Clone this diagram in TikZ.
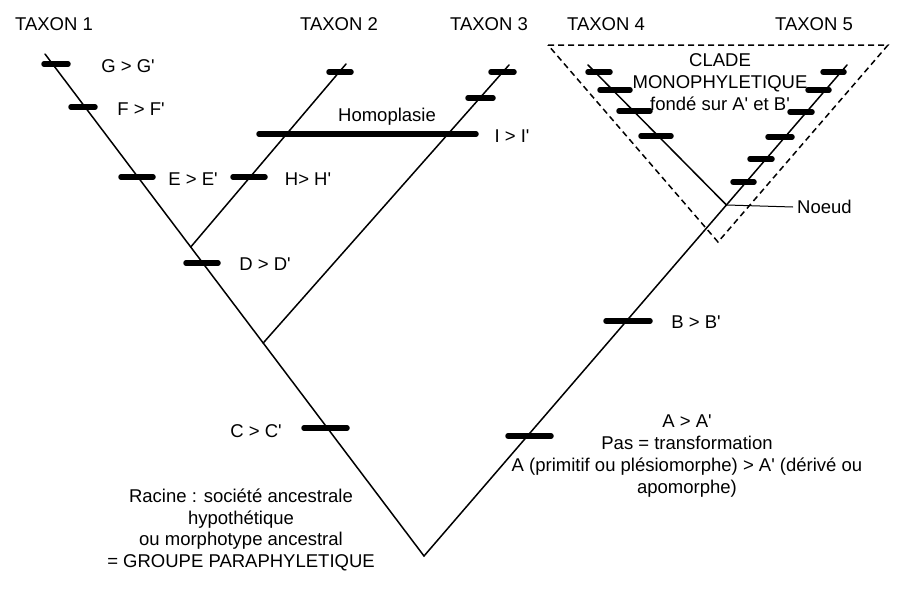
\documentclass[tikz,border=0pt]{standalone}
\usepackage{fontspec}
\setmainfont{Liberation Sans}[Ligatures=TeXOff]
\usetikzlibrary{calc}
\tikzset{
  branch/.style={line width=1.5pt, line cap=round},
  tickbar/.style={line width=5.5pt, line cap=round},
  lbl/.style={font=\fontsize{18.5}{21.7}\selectfont, inner sep=0pt},
  block/.style={lbl, align=center},
  clade/.style={line width=1.5pt, dash pattern=on 6pt off 4pt},
}
\begin{document}
\begin{tikzpicture}[x=1pt,y=-1pt]
\useasboundingbox[fill=white] (0,0) rectangle (901,598);
% tree points
\coordinate (root) at (424,556);
\coordinate (t1) at (45,54);
\coordinate (t2) at (346,64);
\coordinate (t3) at (509,65);
\coordinate (t4) at (588,65);
\coordinate (t5) at (847,65);
\coordinate (j2) at ($(root)!0.6155!(t1)$);
\coordinate (j3) at ($(root)!0.4243!(t1)$);
\coordinate (nd) at ($(root)!0.7149!(t5)$);
% branches
\draw[branch] (t1) -- (root) -- (t5);
\draw[branch] (j2) -- (t2);
\draw[branch] (j3) -- (t3);
\draw[branch] (nd) -- (t4);
% clade triangle
\draw[clade] (548,45) -- (888,45) -- (718,242) -- cycle;
% ticks taxon 1
\draw[tickbar] (44,64) -- (68,64);
\draw[tickbar] (71,107) -- (95,107);
\draw[tickbar] (121,177) -- (153,177);
\draw[tickbar] (186,263) -- (218,263);
\draw[tickbar] (304,428) -- (347,428);
% taxon 2
\draw[tickbar] (329,72) -- (351,72);
\draw[tickbar] (233,177) -- (265,177);
% homoplasie
\draw[tickbar] (259,134) -- (476,134);
% taxon 3
\draw[tickbar] (491,72) -- (514,72);
\draw[tickbar] (468,98) -- (493,98);
% taxon 4
\draw[tickbar] (588,72) -- (610,72);
\draw[tickbar] (600,90) -- (630,90);
\draw[tickbar] (619,111) -- (650,111);
\draw[tickbar] (641,136) -- (671,136);
% taxon 5
\draw[tickbar] (823,72) -- (844,72);
\draw[tickbar] (808,90) -- (829,90);
\draw[tickbar] (790,112) -- (812,112);
\draw[tickbar] (768,137) -- (792,137);
\draw[tickbar] (750,159) -- (772,159);
\draw[tickbar] (733,182) -- (754,182);
% B, A
\draw[tickbar] (606,321) -- (650,321);
\draw[tickbar] (508,436) -- (551,436);
% taxon labels
\node[lbl] (lt1) at (54,24) {TAXON 1};
\node[lbl] (lt2) at (339,24) {TAXON 2};
\node[lbl] (lt3) at (489,24) {TAXON 3};
\node[lbl] (lt4) at (606,24) {TAXON 4};
\node[lbl] (lt5) at (814,24) {TAXON 5};
% character labels
\node[lbl] (lg) at (128,66) {G > G'};
\node[lbl] (lf) at (141,109) {F > F'};
\node[lbl] (le) at (193,179) {E > E'};
\node[lbl] (lh) at (308,179) {H> H'};
\node[lbl] (ld) at (265,264) {D > D'};
\node[lbl] (lhom) at (387,117) {Homoplasie};
\node[lbl] (li) at (512,136) {I > I'};
\node[lbl] (lc) at (256,431) {C > C'};
\node[lbl] (lb) at (696,322) {B > B'};
% noeud
\node[lbl, anchor=west] (noeud) at (797,207) {Noeud};
\draw[line width=1pt] (nd) -- ([xshift=-4pt]noeud.west);
% blocks
\node[block] (clade) at (720,82) {CLADE\\MONOPHYLETIQUE\\fondé sur A' et B'};
\node[block] (ablock) at (687,456) {A > A'\\Pas = transformation\\A (primitif ou plésiomorphe) > A' (dérivé ou\\apomorphe)};
\node[block] (racine) at (241,530) {Racine : société ancestrale\\hypothétique\\ou morphotype ancestral\\= GROUPE PARAPHYLETIQUE};
\end{tikzpicture}
\end{document}
